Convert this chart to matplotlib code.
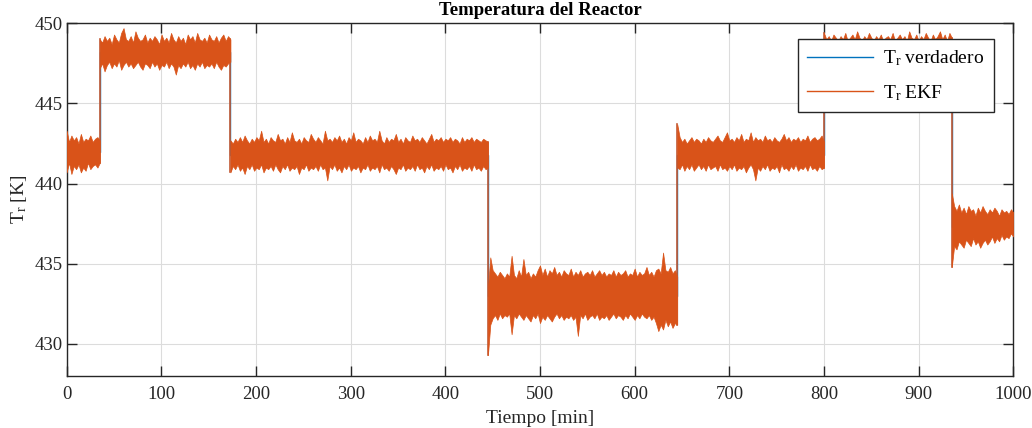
import numpy as np
import matplotlib
matplotlib.use("Agg")
import matplotlib.pyplot as plt
from matplotlib.lines import Line2D

plt.rcParams['font.family'] = ['Liberation Serif', 'DejaVu Serif']
plt.rcParams['mathtext.fontset'] = 'custom'
plt.rcParams['mathtext.rm'] = 'Liberation Serif'
plt.rcParams['mathtext.it'] = 'Liberation Serif:italic'

# ---- data -------------------------------------------------------------
# segment boundaries (min) and true reactor temperature levels (K)
seg_edges = [0, 35, 173, 445, 645, 800, 935, 1000]
true_levels = [442.0, 448.2, 441.8, 433.0, 441.8, 448.3, 437.3, 437.3]

# EKF estimate: upper / lower extent of the noisy trace, read per segment
hi1 = [443.3, 442.6, 443.0, 442.7, 442.9, 442.5, 443.1, 442.6, 442.8, 442.7,
       443.0, 442.6, 442.8, 442.9, 442.7]
lo1 = [440.7, 441.3, 440.6, 441.1, 440.9, 441.2, 440.7, 441.0, 440.8, 441.3,
       440.9, 441.1, 441.2, 441.0, 441.3]
hi2 = [449.0, 448.8, 449.2, 448.9, 449.1, 448.7, 449.3, 449.0, 448.8, 449.4,
       449.7, 449.0, 448.9, 449.2, 448.8, 449.5, 449.1, 448.9, 449.0, 449.3,
       448.8, 449.1, 448.9, 449.2, 449.0, 448.7, 449.3, 448.9, 449.1, 448.8,
       449.4, 449.0, 448.8, 449.2, 448.9, 449.1, 448.7, 449.3, 449.0, 449.2,
       448.8, 449.4, 449.0, 448.9, 449.1, 448.8, 449.3, 449.0, 448.9, 449.2,
       448.8, 449.1, 449.3, 448.9, 449.2, 449.0]
lo2 = [447.2, 447.5, 447.0, 447.4, 447.6, 447.2, 447.5, 447.3, 447.7, 447.1,
       447.4, 447.6, 447.3, 447.5, 447.2, 447.4, 447.6, 447.3, 447.1, 447.5,
       447.4, 447.2, 447.6, 447.3, 447.5, 447.1, 447.4, 447.3, 447.6, 447.2,
       447.5, 447.3, 446.8, 447.4, 447.2, 447.5, 447.3, 447.6, 447.2, 447.4,
       447.1, 447.5, 447.3, 447.6, 447.2, 447.4, 447.3, 447.5, 447.2, 447.6,
       447.3, 447.1, 447.4, 447.3, 447.5, 447.6]
hi3 = [442.7, 442.5, 442.8, 442.6, 442.9, 442.6, 443.0, 442.7, 442.5, 442.8,
       442.6, 442.9, 442.7, 443.3, 442.6, 442.8, 442.5, 442.9, 442.7, 442.6,
       443.1, 442.7, 442.8, 442.5, 442.9, 442.6, 443.2, 442.7, 442.6, 442.8,
       442.5, 442.9, 442.7, 442.6, 443.1, 442.8, 442.6, 442.9, 442.7, 442.5,
       443.3, 442.7, 442.8, 442.6, 442.9, 442.7, 443.0, 442.6, 442.8, 442.5,
       442.9, 442.7, 443.2, 442.6, 442.8, 442.7, 442.5, 442.9, 442.6, 443.0,
       442.7, 442.8, 442.6, 443.3, 442.7, 442.5, 442.9, 442.6, 442.8, 442.7,
       443.1, 442.6, 442.8, 442.5, 442.9, 442.7, 442.6, 443.0, 442.7, 442.8,
       442.6, 442.9, 442.7, 442.5, 442.8, 443.1, 442.6, 442.8, 442.7, 442.9,
       442.6, 442.8, 442.7, 442.9, 442.6, 442.8, 442.7, 442.5, 442.9, 442.6,
       442.8, 442.7, 442.9, 442.6, 442.8, 442.7, 442.6, 442.8, 442.7, 442.6]
lo3 = [440.7, 441.1, 440.9, 441.2, 440.8, 441.0, 440.6, 441.1, 440.9, 441.2,
       440.8, 441.0, 440.9, 441.2, 440.7, 441.0, 440.9, 441.1, 440.8, 441.2,
       440.9, 440.7, 441.1, 440.9, 441.2, 440.8, 441.0, 440.9, 441.1, 440.6,
       441.0, 440.9, 441.2, 440.8, 441.0, 440.9, 441.1, 440.8, 441.2, 440.9,
       441.0, 440.2, 441.1, 440.9, 441.2, 440.8, 441.0, 440.7, 441.1, 440.9,
       441.2, 440.8, 441.0, 440.9, 441.1, 440.7, 441.0, 440.9, 441.2, 440.8,
       441.0, 440.9, 441.1, 440.7, 441.2, 440.9, 441.0, 440.8, 441.1, 440.9,
       440.6, 441.0, 440.9, 441.2, 440.8, 441.0, 440.9, 441.1, 440.8, 441.2,
       440.9, 441.0, 440.7, 441.1, 440.9, 441.2, 440.8, 441.0, 440.9, 441.1,
       440.8, 441.2, 440.9, 441.0, 440.7, 441.1, 440.9, 441.2, 440.8, 441.0,
       440.9, 441.1, 440.8, 441.2, 440.9, 441.0, 440.8, 441.1, 440.9, 441.0]
hi4 = [433.5, 435.4, 434.6, 434.4, 434.2, 434.5, 434.3, 434.1, 434.4, 434.2,
       435.5, 434.3, 434.1, 434.6, 434.2, 435.3, 434.3, 434.5, 434.1, 434.4,
       434.2, 434.6, 434.9, 434.3, 434.7, 434.2, 434.6, 434.4, 434.8, 434.3,
       434.5, 434.2, 434.6, 434.4, 434.3, 434.7, 434.2, 434.5, 434.3, 434.6,
       434.2, 434.4, 434.5, 434.3, 434.6, 434.2, 434.4, 434.6, 434.3, 434.5,
       434.2, 434.4, 434.3, 434.6, 434.2, 434.5, 434.3, 434.4, 434.6, 434.2,
       434.4, 434.3, 434.7, 434.2, 434.5, 434.3, 434.4, 434.8, 434.3, 434.5,
       434.2, 434.6, 434.7, 434.4, 435.7, 434.6, 434.5, 434.8, 434.4, 434.6,
       434.2]
lo4 = [429.3, 431.2, 431.6, 431.8, 431.5, 431.9, 431.6, 431.8, 431.7, 431.9,
       430.6, 431.8, 431.6, 431.9, 431.7, 431.5, 431.8, 431.6, 431.4, 431.8,
       431.6, 431.9, 431.3, 431.7, 431.5, 431.8, 431.6, 431.4, 431.7, 431.9,
       431.6, 431.8, 431.5, 431.7, 431.6, 431.8, 431.5, 431.7, 430.5, 431.8,
       431.6, 431.9, 431.5, 431.7, 431.8, 431.6, 431.9, 431.5, 431.7, 431.6,
       431.8, 431.5, 431.7, 431.9, 431.6, 431.8, 431.7, 431.5, 431.8, 431.6,
       431.9, 431.7, 431.5, 431.8, 431.6, 431.9, 431.7, 431.6, 431.8, 431.5,
       431.7, 431.3, 430.8, 431.2, 430.9, 431.5, 431.1, 431.4, 431.0, 431.3,
       431.2]
hi5 = [443.7, 442.9, 442.6, 442.8, 442.5, 442.7, 442.9, 442.6, 442.8, 442.7,
       442.5, 442.8, 442.6, 442.9, 442.7, 442.6, 442.8, 443.0, 442.7, 442.6,
       442.9, 443.2, 442.7, 442.8, 442.6, 442.9, 442.7, 443.1, 442.6, 442.8,
       442.7, 443.2, 442.6, 442.9, 442.7, 442.8, 442.6, 443.0, 442.7, 442.8,
       442.6, 442.9, 442.7, 442.6, 442.8, 443.1, 442.7, 442.9, 442.6, 442.8,
       442.7, 442.9, 442.6, 442.8, 442.7, 443.0, 442.6, 442.8, 442.9, 442.7,
       442.8, 443.0, 442.6]
lo5 = [441.0, 440.9, 441.2, 440.8, 441.1, 440.9, 441.2, 440.8, 441.0, 441.2,
       440.9, 441.1, 440.8, 441.2, 440.9, 441.0, 441.1, 440.8, 441.2, 440.9,
       441.0, 440.8, 441.1, 440.9, 441.2, 440.8, 441.0, 440.9, 441.1, 440.7,
       441.0, 441.2, 440.9, 440.2, 441.0, 440.8, 441.1, 440.9, 441.2, 440.8,
       441.0, 440.9, 441.1, 440.7, 441.2, 440.9, 441.0, 440.8, 441.1, 440.9,
       441.2, 440.8, 441.0, 440.9, 441.1, 440.8, 441.2, 440.9, 441.0, 440.8,
       441.1, 440.9, 441.0]
hi6 = [449.4, 449.0, 449.2, 448.9, 449.3, 449.1, 448.9, 449.2, 449.0, 449.4,
       448.9, 449.1, 449.3, 449.0, 449.5, 449.1, 448.9, 449.2, 449.0, 449.4,
       449.1, 448.9, 449.2, 449.0, 449.3, 448.9, 449.1, 449.2, 449.0, 449.4,
       448.9, 449.1, 449.3, 449.0, 449.2, 448.9, 449.5, 449.1, 449.0, 449.3,
       448.9, 449.2, 449.0, 449.4, 449.1, 448.9, 449.3, 449.0, 449.2, 449.5,
       449.0, 449.3, 448.9, 449.4, 449.1]
lo6 = [447.3, 447.6, 447.4, 447.2, 447.5, 447.3, 447.6, 447.4, 447.2, 447.5,
       447.3, 447.6, 447.4, 447.1, 447.5, 447.3, 447.6, 447.4, 447.2, 447.5,
       447.3, 447.6, 447.4, 447.2, 447.5, 447.3, 447.6, 447.4, 447.2, 447.5,
       447.3, 447.6, 447.4, 447.2, 447.5, 447.3, 447.6, 447.4, 447.2, 447.5,
       447.3, 447.6, 447.4, 447.2, 447.5, 447.3, 447.6, 447.4, 447.2, 447.5,
       447.3, 447.6, 447.4, 447.2, 447.5]
hi7 = [439.4, 438.6, 438.3, 438.7, 438.2, 438.5, 438.1, 438.6, 438.3, 438.4,
       438.0, 438.5, 438.2, 438.6, 438.3, 438.1, 438.4, 438.2, 438.5, 438.3,
       438.0, 438.4, 438.2, 438.3, 438.1, 438.4, 438.2]
lo7 = [434.8, 436.1, 435.9, 436.4, 436.2, 436.0, 436.5, 436.3, 436.1, 436.6,
       436.2, 436.4, 436.0, 436.3, 436.5, 436.2, 436.4, 436.7, 436.3, 436.6,
       436.4, 436.8, 436.5, 436.7, 436.6, 436.9, 436.7]
ekf_hi = [hi1, hi2, hi3, hi4, hi5, hi6, hi7]
ekf_lo = [lo1, lo2, lo3, lo4, lo5, lo6, lo7]

x_ticks = [0, 100, 200, 300, 400, 500, 600, 700, 800, 900, 1000]
y_ticks = [430, 435, 440, 445, 450]
labels = [r'T$_{\mathrm{r}}$ verdadero', r'T$_{\mathrm{r}}$ EKF']

# ---- plot -------------------------------------------------------------
fig = plt.figure(figsize=(10.32, 4.28), dpi=100)
ax = fig.add_axes([0.0646, 0.1215, 0.9819 - 0.0646, 0.9456 - 0.1215])

blue = '#0072BD'
orange = '#D95319'

ax.step(seg_edges, true_levels, where='post', color=blue, lw=1.0, zorder=2)

for i in range(len(ekf_hi)):
    t = np.linspace(seg_edges[i], seg_edges[i + 1], len(ekf_hi[i]))
    ax.fill_between(t, ekf_lo[i], ekf_hi[i], facecolor=orange,
                    edgecolor=orange, lw=0.5, zorder=3)
# the trace's vertical strokes at the step changes (covering the true line)
for i in range(1, len(ekf_hi)):
    ends = [ekf_hi[i - 1][-1], ekf_lo[i - 1][-1], ekf_hi[i][0], ekf_lo[i][0]]
    ax.plot([seg_edges[i], seg_edges[i]], [min(ends), max(ends)],
            color='#c25a35', lw=1.2, zorder=2.5)

ax.set_xlim(0, 1000)
ax.set_ylim(428, 450)
ax.set_xticks(x_ticks)
ax.set_yticks(y_ticks)
ax.grid(True, color='#dcdcdc', lw=0.8)
ax.set_axisbelow(True)

for s in ax.spines.values():
    s.set_color('#262626')
    s.set_linewidth(1.0)
ax.tick_params(direction='in', length=7, width=1.0, color='#262626',
               top=True, right=True, labelsize=13.5, labelcolor='#262626')
ax.tick_params(axis='x', pad=7)
ax.tick_params(axis='y', pad=3)

ax.set_title('Temperatura del Reactor', fontsize=13.5, fontweight='bold', pad=6)
ax.set_xlabel('Tiempo [min]', fontsize=14, color='#262626', labelpad=5)
ax.set_ylabel(r'T$_{\mathrm{r}}$ [K]', fontsize=14, color='#262626', labelpad=4)

handles = [Line2D([], [], color=blue, lw=1.0), Line2D([], [], color=orange, lw=1.0)]
leg = ax.legend(handles, labels, loc='upper right', bbox_to_anchor=(0.9796, 0.9555),
                borderaxespad=0, fontsize=14, handlelength=3.4, frameon=True,
                fancybox=False, framealpha=1, edgecolor='#262626', borderpad=0.5,
                labelspacing=0.75, handletextpad=0.5)
leg.get_frame().set_linewidth(1.0)

fig.savefig('out.png', dpi=100)
